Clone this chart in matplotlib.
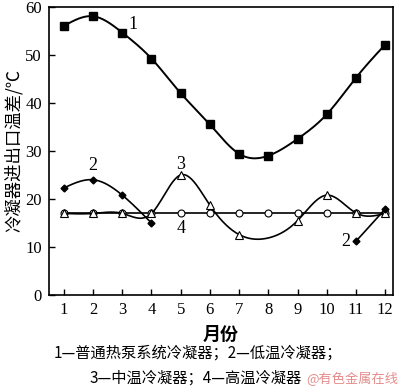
import numpy as np
import matplotlib
matplotlib.use("Agg")
import matplotlib.pyplot as plt

plt.rcParams['font.family'] = ['Liberation Serif', 'Noto Sans CJK SC', 'DejaVu Sans']
plt.rcParams['mathtext.fontset'] = 'stix'

months = [1, 2, 3, 4, 5, 6, 7, 8, 9, 10, 11, 12]
s1 = [56.0, 58.0, 54.6, 49.2, 42.0, 35.5, 29.4, 29.0, 32.5, 37.6, 45.2, 52.1]
s2_a_x = [1, 2, 3, 4]
s2_a = [22.3, 24.0, 20.8, 15.0]
s2_b_x = [11, 12]
s2_b = [11.2, 17.9]
s3 = [17.0, 17.0, 17.0, 17.0, 25.0, 18.7, 12.6, 11.9, 15.5, 20.8, 17.1, 17.0]
s4 = [17.0] * 12
caption1 = "1—普通热泵系统冷凝器；2—低温冷凝器；"
caption2 = "3—中温冷凝器；4—高温冷凝器"
cjk = ['Noto Sans CJK SC', 'DejaVu Sans']


def spline(x, y, n=300):
    # natural cubic spline, just for a smooth curve through the points
    x = np.asarray(x, float)
    y = np.asarray(y, float)
    k = len(x)
    h = np.diff(x)
    A = np.zeros((k, k))
    b = np.zeros(k)
    A[0, 0] = A[-1, -1] = 1
    for i in range(1, k - 1):
        A[i, i - 1] = h[i - 1]
        A[i, i] = 2 * (h[i - 1] + h[i])
        A[i, i + 1] = h[i]
        b[i] = 6 * ((y[i + 1] - y[i]) / h[i] - (y[i] - y[i - 1]) / h[i - 1])
    M = np.linalg.solve(A, b)
    xs = np.linspace(x[0], x[-1], n)
    idx = np.clip(np.searchsorted(x, xs) - 1, 0, k - 2)
    x0, x1 = x[idx], x[idx + 1]
    hh = x1 - x0
    t0 = x1 - xs
    t1 = xs - x0
    ys = (M[idx] * t0 ** 3 + M[idx + 1] * t1 ** 3) / (6 * hh) \
        + (y[idx] / hh - M[idx] * hh / 6) * t0 + (y[idx + 1] / hh - M[idx + 1] * hh / 6) * t1
    return xs, ys


fig = plt.figure(figsize=(4.0, 3.92), dpi=100)
ax = fig.add_axes([0.1225, 0.247, 0.86, 0.736])

# 4 - high temp
ax.plot(months, s4, color='black', lw=1.2, marker='o', ms=5, mfc='white', mec='black', mew=0.8, zorder=2)
# 3 - mid temp
xs, ys = spline(months, s3)
ax.plot(xs, ys, color='black', lw=1.2, zorder=3)
ax.plot([m for i, m in enumerate(months) if i != 7], [v for i, v in enumerate(s3) if i != 7],
        ls='none', marker='^', ms=5.5, mfc='white', mec='black', mew=0.8, zorder=4)
# 2 - low temp
xs, ys = spline(s2_a_x, s2_a)
ax.plot(xs, ys, color='black', lw=1.2, zorder=3)
ax.plot(s2_a_x, s2_a, ls='none', marker='D', ms=3.5, color='black', zorder=4)
ax.plot(s2_b_x, s2_b, color='black', lw=1.2, marker='D', ms=3.5, zorder=4)
# 1 - normal heat pump
xs, ys = spline(months, s1)
ax.plot(xs, ys, color='black', lw=1.4, zorder=3)
ax.plot(months, s1, ls='none', marker='s', ms=5.5, color='black', zorder=4)

ax.text(3.22, 55.4, "1", fontsize=13)
ax.text(1.85, 26.0, "2", fontsize=13)
ax.text(4.85, 26.3, "3", fontsize=13)
ax.text(4.87, 13.0, "4", fontsize=13)
ax.text(10.5, 10.2, "2", fontsize=13)

ax.set_xlim(0.49, 12.27)
ax.set_ylim(0, 60)
ax.set_xticks(months)
ax.set_yticks([0, 10, 20, 30, 40, 50, 60])
ax.tick_params(direction='in', length=4, width=1, labelsize=12, top=False, right=False, pad=5)
for sp in ax.spines.values():
    sp.set_linewidth(1.2)

ax.set_ylabel("冷凝器进出口温差/℃", fontsize=12.5, family=cjk, labelpad=2)
ax.set_xlabel("月份", fontsize=13, family=cjk, fontweight='bold', labelpad=5)

fig.text(0.495, 0.1, caption1, ha='center', va='center', fontsize=11, family=cjk)
fig.text(0.49, 0.035, caption2, ha='center', va='center', fontsize=11, family=cjk)
fig.text(0.995, 0.033, "@有色金属在线", ha='right', va='center', fontsize=9.5, family=cjk,
         color='#e07070', alpha=0.8)

fig.savefig("out.png", dpi=100)
